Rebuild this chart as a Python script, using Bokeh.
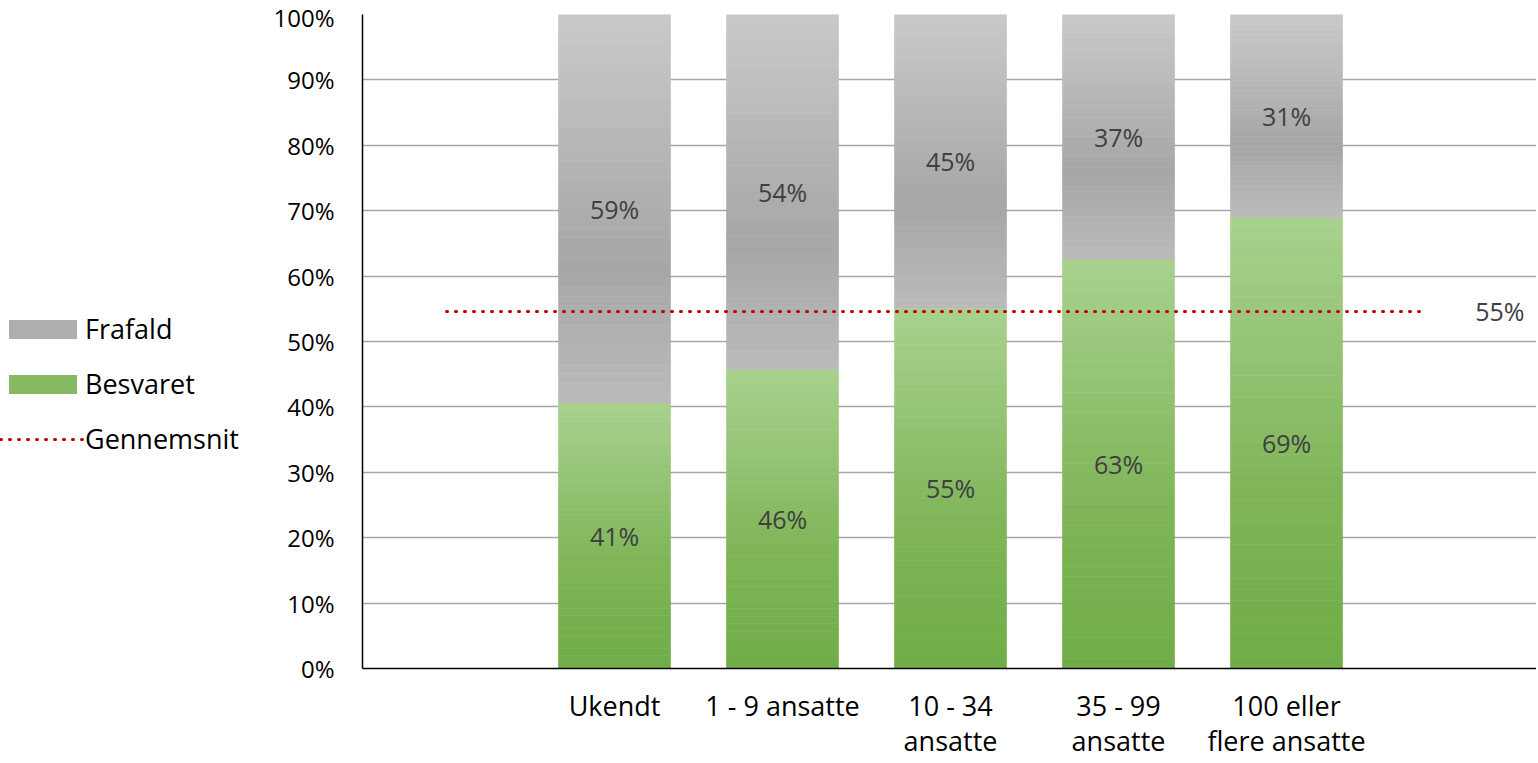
from bokeh.plotting import figure
from bokeh.layouts import row
from bokeh.models import (ColumnDataSource, Range1d, FixedTicker, PrintfTickFormatter,
                          Legend, LegendItem, Label)
from bokeh.embed import file_html
from bokeh.resources import INLINE

# ---------------- data ----------------
categories = ["Ukendt", "1 - 9 ansatte", "10 - 34\nansatte", "35 - 99\nansatte",
              "100 eller\nflere ansatte"]
besvaret = [40.6, 45.7, 55.1, 62.6, 69.0]
frafald = [59.4, 54.3, 44.9, 37.4, 31.0]
gennemsnit = 54.6
y_ticks = [0, 10, 20, 30, 40, 50, 60, 70, 80, 90, 100]
series_names = ["Frafald", "Besvaret", "Gennemsnit"]

FONT = "Open Sans"
GRAY_STOPS = [(0.0, "#c9c9c9"), (0.65, "#a6a6a6"), (1.0, "#bbbbbb")]
GREEN_STOPS = [(0.0, "#a9d18e"), (0.6, "#7fb558"), (1.0, "#70ad47")]
AVG_COLOR = "#c00000"
N_SLICES = 40

TOTAL_W, TOTAL_H = 1536, 762
LEGEND_W = 270


def _rgb(h):
    h = h.lstrip("#")
    return tuple(int(h[i:i + 2], 16) for i in (0, 2, 4))


def stop_color(stops, t):
    for (t0, c0), (t1, c1) in zip(stops[:-1], stops[1:]):
        if t <= t1:
            f = 0 if t1 == t0 else (t - t0) / (t1 - t0)
            a, b = _rgb(c0), _rgb(c1)
            return "#%02x%02x%02x" % tuple(round(a[k] + (b[k] - a[k]) * f) for k in range(3))
    return stops[-1][1]


def gradient_source(bottoms, heights, stops):
    xs, bs, ts, cs = [], [], [], []
    for i, (b0, h) in enumerate(zip(bottoms, heights)):
        top = b0 + h
        for k in range(N_SLICES):
            # k = 0 is the top slice (light end of the gradient)
            t_hi = top - h * k / N_SLICES
            t_lo = top - h * (k + 1) / N_SLICES
            xs.append(i)
            bs.append(t_lo)
            ts.append(t_hi)
            cs.append(stop_color(stops, (k + 0.5) / N_SLICES))
    return ColumnDataSource(dict(x=xs, bottom=bs, top=ts, color=cs))


# ---------------- main chart ----------------
p = figure(width=TOTAL_W - LEGEND_W, height=TOTAL_H,
           x_range=Range1d(-1.5, 5.488), y_range=Range1d(0, 100),
           output_backend="svg", toolbar_location=None,
           min_border_left=92, min_border_right=0, min_border_top=14, min_border_bottom=94)
p.outline_line_color = None
p.background_fill_color = "white"

p.xgrid.visible = False
p.ygrid.ticker = FixedTicker(ticks=y_ticks)
p.ygrid.grid_line_color = "#a6a6a6"
p.ygrid.grid_line_width = 1.5

p.yaxis.ticker = FixedTicker(ticks=y_ticks)
p.yaxis.formatter = PrintfTickFormatter(format="%d%%")
p.yaxis.major_label_text_font = FONT
p.yaxis.major_label_text_font_size = "24px"
p.yaxis.major_label_text_color = "#000000"
p.yaxis.major_label_standoff = 28
p.yaxis.major_tick_line_color = None
p.yaxis.minor_tick_line_color = None
p.yaxis.major_tick_out = 0
p.yaxis.axis_line_color = "#000000"
p.yaxis.axis_line_width = 1.5

p.xaxis.ticker = FixedTicker(ticks=list(range(len(categories))))
p.xaxis.major_label_overrides = {i: c for i, c in enumerate(categories)}
p.xaxis.major_label_text_font = FONT
p.xaxis.major_label_text_font_size = "27px"
p.xaxis.major_label_text_color = "#000000"
p.xaxis.major_label_text_line_height = 0.97
p.xaxis.major_label_standoff = 18
p.xaxis.major_tick_line_color = None
p.xaxis.minor_tick_line_color = None
p.xaxis.major_tick_out = 0
p.xaxis.axis_line_color = "#000000"
p.xaxis.axis_line_width = 1.5

BAR_W = 0.667
green_src = gradient_source([0] * len(besvaret), besvaret, GREEN_STOPS)
gray_src = gradient_source(besvaret, frafald, GRAY_STOPS)
p.vbar(x="x", bottom="bottom", top="top", width=BAR_W, source=green_src,
       fill_color="color", line_color="color", line_width=0.6)
p.vbar(x="x", bottom="bottom", top="top", width=BAR_W, source=gray_src,
       fill_color="color", line_color="color", line_width=0.6)

lab_src = ColumnDataSource(dict(
    x=list(range(len(categories))) * 2,
    y=[b / 2 for b in besvaret] + [b + f / 2 for b, f in zip(besvaret, frafald)],
    text=[f"{round(b)}%" for b in besvaret] + [f"{round(f)}%" for f in frafald],
))
p.text(x="x", y="y", text="text", source=lab_src,
       text_font={"value": FONT}, text_font_size="25px", text_color="#404040",
       text_align="center", text_baseline="middle")

p.line(x=[-1.0, 4.833], y=[gennemsnit, gennemsnit], line_color=AVG_COLOR,
       line_width=3, line_dash="1 8", line_cap="round")
p.add_layout(Label(x=5.27, y=gennemsnit, text=f"{round(gennemsnit)}%",
                   text_font=FONT, text_font_size="25px", text_color="#404040",
                   text_align="center", text_baseline="middle"))

# ---------------- legend panel ----------------
lf = figure(width=LEGEND_W, height=TOTAL_H, x_range=Range1d(0, 1), y_range=Range1d(0, 1),
            output_backend="svg", toolbar_location=None,
            x_axis_location=None, y_axis_location=None,
            min_border_left=0, min_border_right=0, min_border_top=0, min_border_bottom=0)
lf.grid.visible = False
lf.outline_line_color = None

# swatch renderers sit outside the visible range; only their legend glyphs show
sw_gray = lf.vbar(x=[5], top=[5], bottom=[4], width=0.5,
                  fill_color=stop_color(GRAY_STOPS, 0.5), line_color=None)
sw_green = lf.vbar(x=[5], top=[5], bottom=[4], width=0.5,
                   fill_color=stop_color(GREEN_STOPS, 0.5), line_color=None)
sw_avg = lf.line(x=[5, 6], y=[5, 5], line_color=AVG_COLOR, line_width=3, line_dash="1 8",
                 line_cap="round")

legend = Legend(items=[
    LegendItem(label=series_names[0], renderers=[sw_gray]),
    LegendItem(label=series_names[1], renderers=[sw_green]),
    LegendItem(label=series_names[2], renderers=[sw_avg]),
], location=(0, 211))
legend.glyph_width = 85
legend.glyph_height = 24
legend.label_standoff = 0
legend.label_height = 19
legend.spacing = 18
legend.padding = 0
legend.margin = 0
legend.border_line_color = None
legend.background_fill_alpha = 0
legend.label_text_font = FONT
legend.label_text_font_size = "27px"
legend.label_text_color = "#000000"
legend.label_text_baseline = "middle"
lf.add_layout(legend, "center")

layout = row(lf, p, spacing=0)
open("out.html", "w").write(file_html(layout, INLINE))
